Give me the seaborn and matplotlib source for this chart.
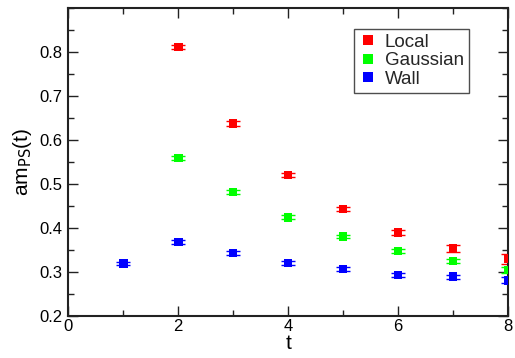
import matplotlib
matplotlib.use("Agg")
import matplotlib.pyplot as plt
import seaborn as sns
import pandas as pd
from matplotlib.ticker import MultipleLocator

# Pseudoscalar effective mass for three source smearings
t_local = [2, 3, 4, 5, 6, 7, 8]
m_local = [0.810, 0.637, 0.520, 0.443, 0.389, 0.353, 0.330]
e_local = [0.005, 0.005, 0.004, 0.005, 0.006, 0.009, 0.011]

t_gauss = [2, 3, 4, 5, 6, 7, 8]
m_gauss = [0.558, 0.481, 0.424, 0.380, 0.347, 0.325, 0.304]
e_gauss = [0.004, 0.004, 0.004, 0.004, 0.004, 0.005, 0.006]

t_wall = [1, 2, 3, 4, 5, 6, 7, 8]
m_wall = [0.319, 0.368, 0.343, 0.320, 0.307, 0.293, 0.289, 0.281]
e_wall = [0.004, 0.004, 0.004, 0.004, 0.004, 0.004, 0.005, 0.007]

labels = ["Local", "Gaussian", "Wall"]
colors = ["#ff0000", "#00ff00", "#0000ff"]
x_ticks = [0, 2, 4, 6, 8]
y_ticks = [0.2, 0.3, 0.4, 0.5, 0.6, 0.7, 0.8]

frames = []
for lab, t, m, e in zip(labels, [t_local, t_gauss, t_wall],
                        [m_local, m_gauss, m_wall], [e_local, e_gauss, e_wall]):
    frames.append(pd.DataFrame({"t": t, "m": m, "err": e, "source": lab}))
df = pd.concat(frames, ignore_index=True)

sns.set_theme(style="white")
plt.rcParams["font.family"] = ["Liberation Sans", "DejaVu Sans"]

fig = plt.figure(figsize=(5.15, 3.58), dpi=100)
ax = fig.add_axes([0.1326, 0.1175, 0.854, 0.8615])

palette = dict(zip(labels, colors))
for lab in labels:
    sub = df[df["source"] == lab]
    ax.errorbar(sub["t"], sub["m"], yerr=sub["err"], fmt="none",
                ecolor=palette[lab], elinewidth=1.0, capsize=4.8,
                capthick=1.0, zorder=2)

sns.scatterplot(data=df, x="t", y="m", hue="source", palette=palette,
                marker="s", s=38, linewidth=0, ax=ax, zorder=3,
                legend=True)

ax.set_xlim(0, 8)
ax.set_ylim(0.2, 0.9)
ax.set_xticks(x_ticks)
ax.set_yticks(y_ticks)
ax.xaxis.set_minor_locator(MultipleLocator(1))
ax.yaxis.set_minor_locator(MultipleLocator(0.05))

ax.tick_params(which="both", direction="in", top=True, right=True,
               bottom=True, left=True, color="#222222", labelsize=12,
               labelcolor="black")
ax.tick_params(axis="x", pad=2)
ax.tick_params(axis="y", pad=4)
ax.tick_params(which="major", length=7, width=1.0)
ax.tick_params(which="minor", length=4, width=1.0)
for sp in ax.spines.values():
    sp.set_color("#222222")
    sp.set_linewidth(1.5)

ax.set_xlabel("t", fontsize=15, labelpad=0, color="black")
ax.set_ylabel(r"am$_{\mathrm{PS}}$(t)", fontsize=15, labelpad=4, color="black")

leg = ax.legend(loc="upper left", bbox_to_anchor=(0.6874, 0.919),
                bbox_transform=fig.transFigure, frameon=True,
                fancybox=False, edgecolor="#222222", fontsize=13.5,
                handletextpad=0.4, borderpad=0.25, labelspacing=0.08,
                handlelength=1.0, markerscale=1.25, borderaxespad=0)
leg.get_frame().set_linewidth(1.0)

fig.savefig("out.png", dpi=100)
